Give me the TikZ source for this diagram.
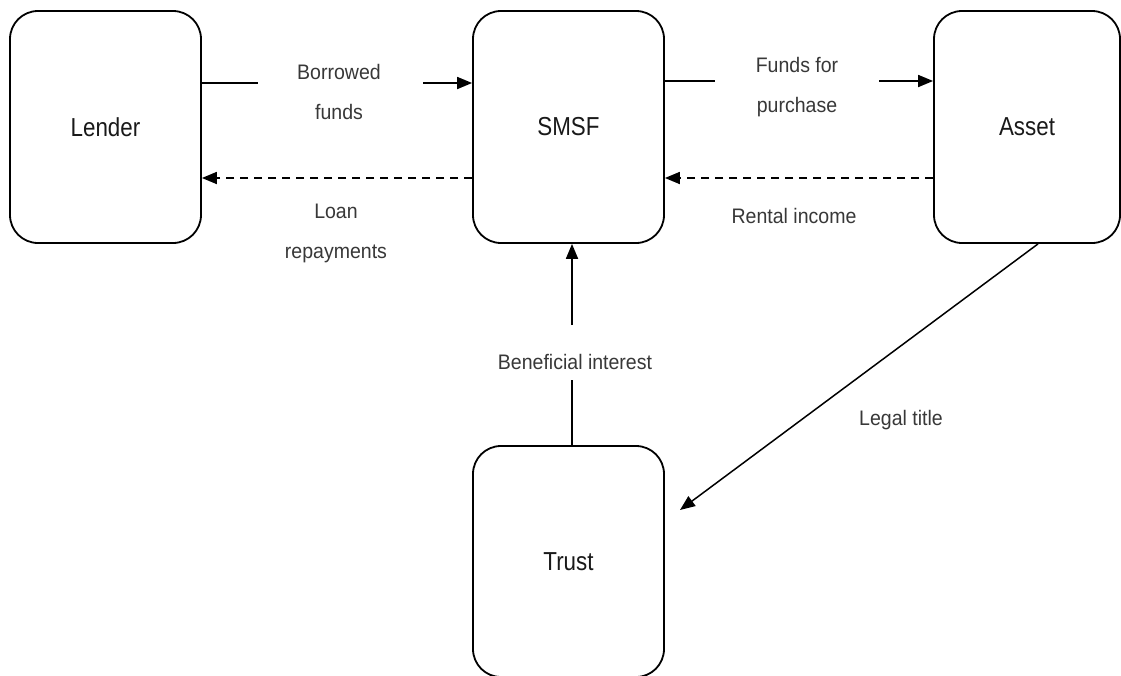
\documentclass[tikz,border=0pt]{standalone}
\usepackage{fontspec}
\setmainfont{Liberation Sans}
\newfontfamily\boxfont{Liberation Sans}[FakeStretch=0.86]
\newfontfamily\lblfont{Liberation Sans}[FakeStretch=0.93]
\usetikzlibrary{arrows.meta}
\begin{document}
\begin{tikzpicture}[x=1pt,y=-1pt,
  entity/.style={draw=black, line width=1.8pt, rounded corners=28pt, inner sep=0pt,
    font=\boxfont\fontsize{26}{30}\selectfont, text=black!90},
  lbl/.style={font=\lblfont\fontsize{21}{40}\selectfont, text=black!78, align=center, inner sep=0pt},
  conn/.style={line width=1.8pt, draw=black},
  arr/.style={conn, -{Triangle[length=15pt,width=12pt]}},
  dsh/.style={arr, dash pattern=on 8pt off 6pt}]
\useasboundingbox (0,0) rectangle (1121,675);
\fill[white] (0,0) rectangle (1121,675);
% boxes
\node[entity, minimum width=191pt, minimum height=232pt] (Lender) at (105.5,127) {Lender};
\node[entity, minimum width=191pt, minimum height=232pt] (SMSF) at (568.5,127) {SMSF};
\node[entity, minimum width=186pt, minimum height=232pt] (Asset) at (1027,127) {Asset};
\node[entity, minimum width=191pt, minimum height=231pt] (Trust) at (568.5,561.5) {Trust};
% coordinates
\coordinate (bfA) at (258,83);
\coordinate (bfB) at (423,83);
\coordinate (lr) at (0,178);
\coordinate (fpA) at (715,81);
\coordinate (fpB) at (879,81);
\coordinate (biA) at (572,380);
\coordinate (biB) at (572,325);
\coordinate (ltS) at (1038,244);
\coordinate (ltE) at (680,510);
% borrowed funds
\draw[conn] (Lender.east |- bfA) -- (bfA);
\draw[arr] (bfB) -- (SMSF.west |- bfB);
\node[lbl] (bfL) at (339,92) {Borrowed\\funds};
% loan repayments
\draw[dsh] (SMSF.west |- lr) -- (Lender.east |- lr);
\node[lbl] (lrL) at (336,233) {Loan\\repayments};
% funds for purchase
\draw[conn] (SMSF.east |- fpA) -- (fpA);
\draw[arr] (fpB) -- (Asset.west |- fpB);
\node[lbl] (fpL) at (797,87) {Funds for\\purchase};
% rental income
\draw[dsh] (Asset.west |- lr) -- (SMSF.east |- lr);
\node[lbl] (riL) at (794,216) {Rental income};
% beneficial interest
\draw[conn] (Trust.north -| biA) -- (biA);
\draw[arr] (biB) -- (SMSF.south -| biB);
\node[lbl] (biL) at (575,362) {Beneficial interest};
% legal title
\draw[arr, line width=1.5pt] (Asset.south -| ltS) -- (ltE);
\node[lbl] (ltL) at (901,420) {Legal title};
\end{tikzpicture}
\end{document}
